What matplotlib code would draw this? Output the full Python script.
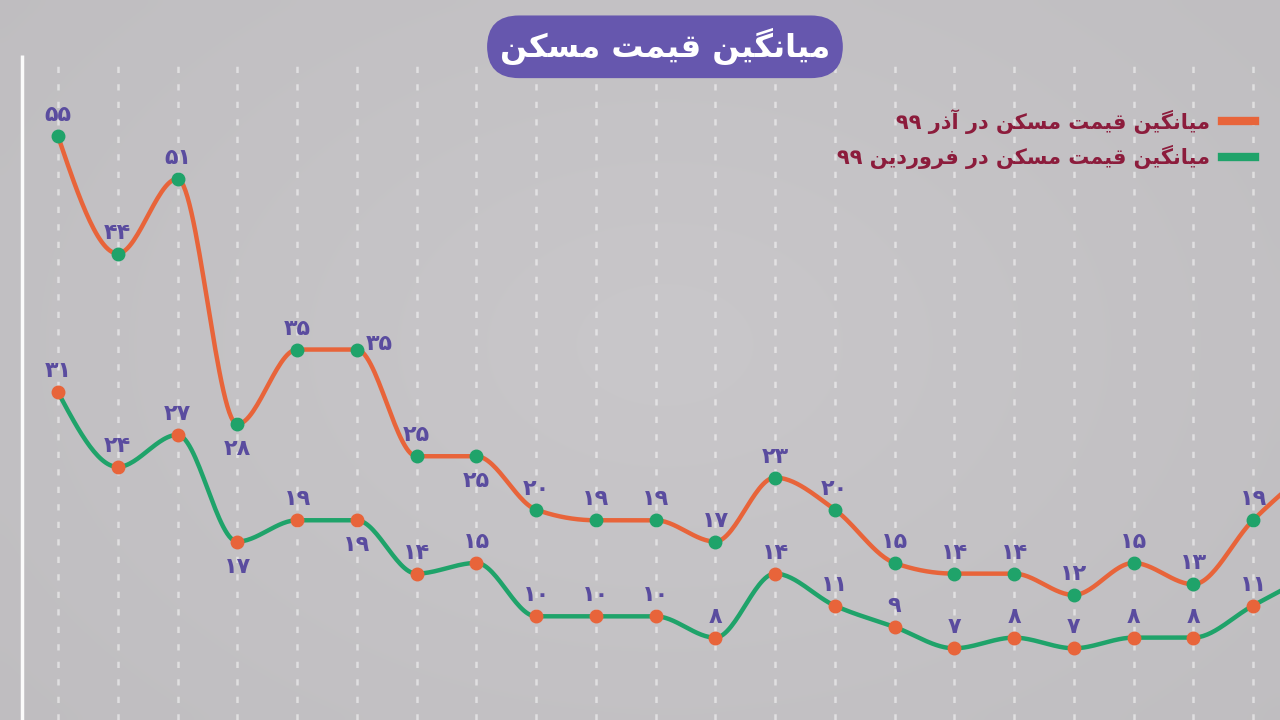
import matplotlib
matplotlib.use("Agg")
import matplotlib.pyplot as plt
from matplotlib.lines import Line2D
import numpy as np

# data (million toman per m2), months left to right; last point is cut by the frame
price_azar = [55, 44, 51, 28, 35, 35, 25, 25, 20, 19, 19, 17, 23, 20, 15, 14, 14, 12, 15, 13, 19, 24]
price_farvardin = [31, 24, 27, 17, 19, 19, 14, 15, 10, 10, 10, 8, 14, 11, 9, 7, 8, 7, 8, 8, 11, 14]
n_shown = 21

title = "میانگین قیمت مسکن"
label_azar = "میانگین قیمت مسکن در آذر ۹۹"
label_farvardin = "میانگین قیمت مسکن در فروردین ۹۹"

# where each value label sits: a = above, b = below, r = right
pos_azar = list("aaabarab") + ["a"] * 14
pos_farvardin = list("aaabab") + ["a"] * 16

ORANGE = "#e8643a"
GREEN = "#1fa36a"
PURPLE = "#5a4c9f"

# --- very small persian shaper (matplotlib has no arabic shaping) ---
FORMS = {
    'ا': ('\uFE8D', '\uFE8E', None, None),
    'آ': ('\uFE81', '\uFE82', None, None),
    'ت': ('\uFE95', '\uFE96', '\uFE97', '\uFE98'),
    'د': ('\uFEA9', '\uFEAA', None, None),
    'ذ': ('\uFEAB', '\uFEAC', None, None),
    'ر': ('\uFEAD', '\uFEAE', None, None),
    'س': ('\uFEB1', '\uFEB2', '\uFEB3', '\uFEB4'),
    'ف': ('\uFED1', '\uFED2', '\uFED3', '\uFED4'),
    'ق': ('\uFED5', '\uFED6', '\uFED7', '\uFED8'),
    'ک': ('\uFB8E', '\uFB8F', '\uFB90', '\uFB91'),
    'گ': ('\uFB92', '\uFB93', '\uFB94', '\uFB95'),
    'م': ('\uFEE1', '\uFEE2', '\uFEE3', '\uFEE4'),
    'ن': ('\uFEE5', '\uFEE6', '\uFEE7', '\uFEE8'),
    'و': ('\uFEED', '\uFEEE', None, None),
    'ی': ('\uFBFC', '\uFBFD', '\uFBFE', '\uFBFF'),
}


def fa(s):
    s = s.replace('ي', 'ی').replace('ك', 'ک')
    out = []
    for k, c in enumerate(s):
        if c not in FORMS:
            out.append(c)
            continue
        prev = s[k - 1] if k > 0 else ''
        nxt = s[k + 1] if k + 1 < len(s) else ''
        j_prev = prev in FORMS and FORMS[prev][2] is not None
        j_next = FORMS[c][2] is not None and nxt in FORMS
        iso, fin, ini, med = FORMS[c]
        if j_prev and j_next:
            out.append(med)
        elif j_prev:
            out.append(fin)
        elif j_next:
            out.append(ini)
        else:
            out.append(iso)
    return ''.join(reversed(out))


def fa_num(v):
    return str(v).translate(str.maketrans("0123456789", "۰۱۲۳۴۵۶۷۸۹"))


def monotone(x, y, n=30):
    # monotone cubic (like d3 curveMonotoneX)
    x = np.asarray(x, float)
    y = np.asarray(y, float)
    h = np.diff(x)
    s = np.diff(y) / h
    m = np.zeros_like(y)
    for i in range(1, len(y) - 1):
        p = (s[i - 1] * h[i] + s[i] * h[i - 1]) / (h[i - 1] + h[i])
        m[i] = (np.sign(s[i - 1]) + np.sign(s[i])) * min(abs(s[i - 1]), abs(s[i]), 0.5 * abs(p))
    m[0] = (3 * s[0] - m[1]) / 2
    m[-1] = (3 * s[-1] - m[-2]) / 2
    xs, ys = [], []
    for i in range(len(h)):
        t = np.linspace(0, 1, n, endpoint=False)
        h00 = 2 * t**3 - 3 * t**2 + 1
        h10 = t**3 - 2 * t**2 + t
        h01 = -2 * t**3 + 3 * t**2
        h11 = t**3 - t**2
        xs.append(x[i] + t * h[i])
        ys.append(h00 * y[i] + h10 * h[i] * m[i] + h01 * y[i + 1] + h11 * h[i] * m[i + 1])
    xs.append([x[-1]])
    ys.append([y[-1]])
    return np.concatenate(xs), np.concatenate(ys)


plt.rcParams['font.family'] = ['DejaVu Sans']

fig = plt.figure(figsize=(12.8, 7.2), dpi=100)
ax = fig.add_axes([0, 0, 1, 1])
x0, dx = -58 / 59.75, 1280 / 59.75
ax.set_xlim(x0, x0 + dx)
ax.set_ylim(0.28, 67.76)
ax.axis("off")

# background: flat grey with a slight purple tint, a bit darker at the edges
gy, gx = np.mgrid[0:72, 0:128]
r = np.clip(np.sqrt(((gx - 66) / 80.0) ** 2 + ((gy - 34) / 55.0) ** 2), 0, 1.3)
shade = 1.0 - 0.045 * r
base = np.array([201, 199, 202]) / 255.0
bg = shade[..., None] * base[None, None, :]
ax.imshow(bg, extent=[x0, x0 + dx, 0.28, 67.76],
          aspect="auto", zorder=0, interpolation="bicubic")

idx = np.arange(len(price_azar))

# grid lines
ax.vlines(idx[:n_shown], 0.28, 62.6, colors="white", linestyles=(0, (2.5, 4.5)),
          linewidth=1.8, alpha=0.5, zorder=1)
ax.vlines(-0.6, 0.28, 62.6, colors="white", linewidth=2.5, alpha=0.95, zorder=1)

for vals, col, mcol, pos in [(price_azar, ORANGE, GREEN, pos_azar),
                             (price_farvardin, GREEN, ORANGE, pos_farvardin)]:
    sx, sy = monotone(idx, vals)
    ax.plot(sx, sy, color=col, lw=3.2, zorder=3, solid_capstyle="round")
    ax.plot(idx, vals, "o", color=mcol, ms=9, zorder=4)
    for i in range(n_shown):
        p = pos[i]
        off = {"a": (0, 15), "b": (0, -18), "r": (16, 4)}[p]
        ax.annotate(fa_num(vals[i]), (idx[i], vals[i]), xytext=off, textcoords="offset points",
                    ha="center", va="center", fontsize=16, fontweight="bold",
                    color=PURPLE, zorder=5)

# title
fig.text(0.5195, 0.935, fa(title), ha="center", va="center", fontsize=23,
         fontweight="bold", color="white",
         bbox=dict(boxstyle="round,pad=0.4,rounding_size=1.0", fc="#6657ae", ec="none"))

handles = [Line2D([], [], color=ORANGE, lw=6), Line2D([], [], color=GREEN, lw=6)]
ax.legend(handles, [fa(label_azar), fa(label_farvardin)], loc="upper right",
          bbox_to_anchor=(0.995, 0.875), markerfirst=False, frameon=False,
          handlelength=1.6, handletextpad=0.55, labelspacing=0.55,
          prop=dict(size=15, weight="bold"), labelcolor="#8c1c3c")

fig.savefig("out.png", dpi=100)
